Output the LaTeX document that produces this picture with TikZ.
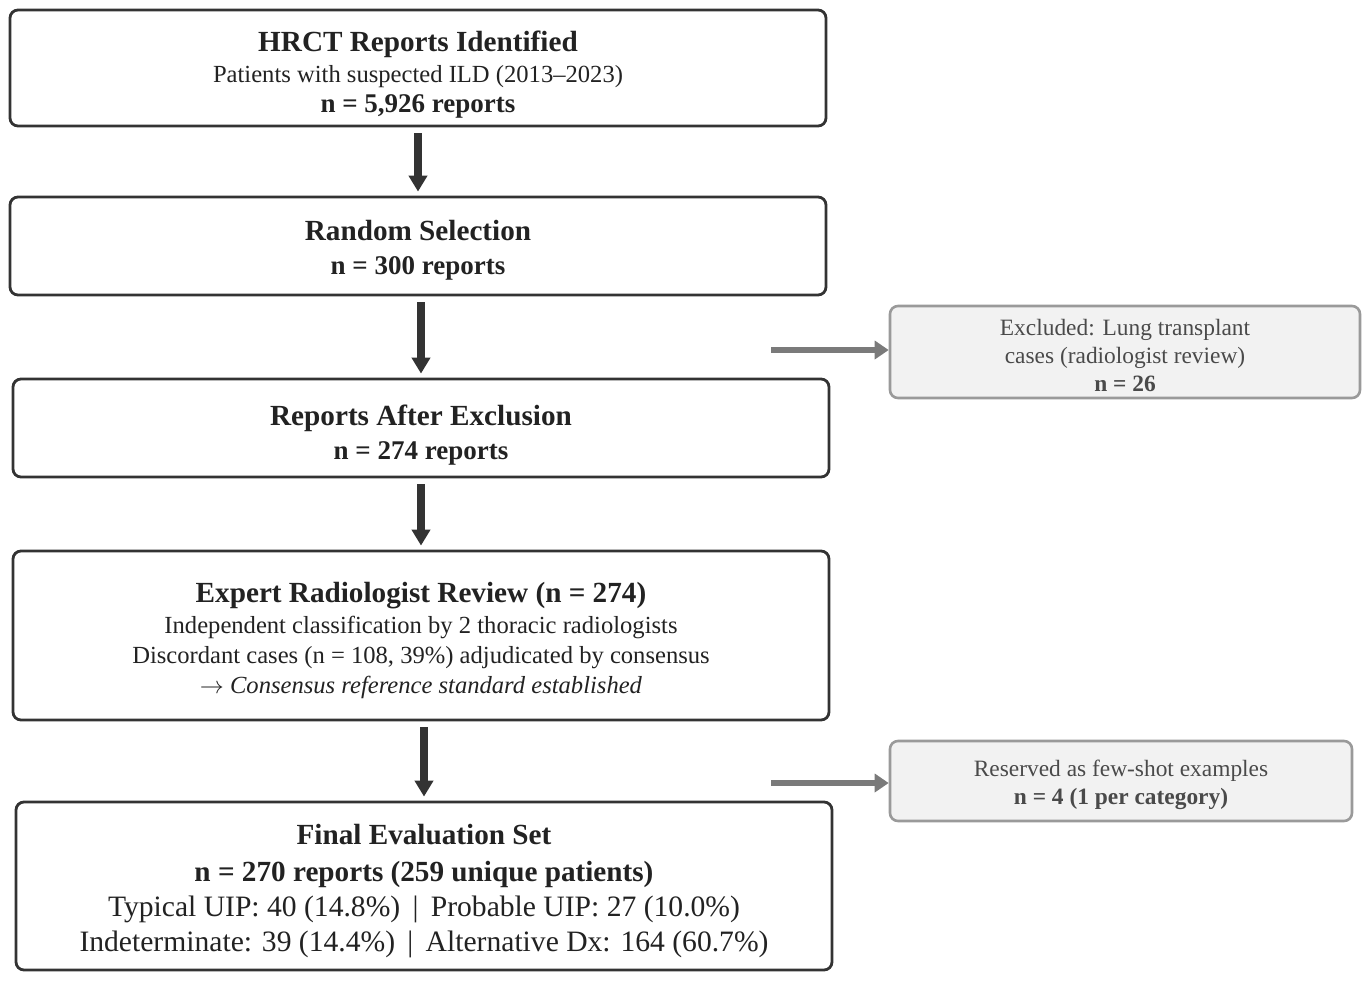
\documentclass[tikz,border=0pt]{standalone}
\usepackage{fontspec}
\setmainfont{Liberation Serif}
\usetikzlibrary{arrows.meta}
\definecolor{boxline}{HTML}{333333}
\definecolor{boxtext}{HTML}{222222}
\definecolor{sidefill}{HTML}{F2F2F2}
\definecolor{sideline}{HTML}{9A9A9A}
\definecolor{sidetext}{HTML}{4A4A4A}
\definecolor{sidearrow}{HTML}{7A7A7A}

\newcommand{\hd}{\fontsize{14.6}{15}\selectfont\bfseries}
\newcommand{\nn}{\fontsize{13.5}{15}\selectfont\bfseries}
\newcommand{\tx}{\fontsize{12.3}{15}\selectfont\mdseries}
\newcommand{\stat}{\fontsize{14.8}{17.5}\selectfont\mdseries}
\newcommand{\sd}{\fontsize{11.7}{14}\selectfont\mdseries}
\newcommand{\sdn}{\fontsize{11.7}{14}\selectfont\bfseries}
% strut that pushes a text block down inside its box
\newcommand{\topgap}[1]{\rule{0pt}{#1}}

\begin{document}
\begin{tikzpicture}[x=0.5pt,y=-0.5pt,
		mainbox/.style={draw=boxline, line width=1.4pt, rounded corners=4pt, fill=white,
			text=boxtext, align=center, minimum width=408pt, inner sep=0pt,
			font=\fontsize{12.3}{15}\selectfont},
		sidebox/.style={draw=sideline, line width=1.3pt, rounded corners=4pt, fill=sidefill,
			text=sidetext, align=center, inner sep=0pt, font=\fontsize{11.7}{14}\selectfont},
		flow/.style={draw=boxline, line width=3.6pt, -{Triangle[length=8pt,width=9pt]}},
		sideflow/.style={draw=sidearrow, line width=2.8pt, -{Triangle[length=7pt,width=9pt]}}]
	\useasboundingbox (0,0) rectangle (1371,981);

	\node[mainbox, minimum height=58pt] (hrct) at (418,68)
		{\hd\topgap{17pt}HRCT Reports Identified\\[0.5pt] \tx Patients with suspected ILD (2013--2023)\\ \nn n = 5,926 reports};
	\node[mainbox, minimum height=49pt] (random) at (418,246)
		{\hd\topgap{14.5pt}Random Selection\\[2pt] \nn n = 300 reports};
	\node[mainbox, minimum height=49pt] (after) at (421,428)
		{\hd\topgap{17.5pt}Reports After Exclusion\\[2pt] \nn n = 274 reports};
	\node[mainbox, minimum height=84.5pt] (expert) at (421,635.5)
		{\hd\topgap{15pt}Expert Radiologist Review (n = 274)\\[0.5pt] \tx Independent classification by 2 thoracic radiologists\\
		\tx Discordant cases (n = 108, 39\%) adjudicated by consensus\\ \tx $\rightarrow$ \textit{Consensus reference standard established}};
	\node[mainbox, minimum height=84pt, font=\fontsize{14.8}{17.5}\selectfont] (final) at (424,886)
		{\hd\topgap{15pt}Final Evaluation Set\\[1pt] \hd n = 270 reports (259 unique patients)\\
		\stat Typical UIP: 40 (14.8\%) \,|\, Probable UIP: 27 (10.0\%)\\ \stat Indeterminate: 39 (14.4\%) \,|\, Alternative Dx: 164 (60.7\%)};

	\node[sidebox, minimum width=235pt, minimum height=46pt] (excluded) at (1125,352)
		{\sd\topgap{11.5pt}Excluded: Lung transplant\\ \sd cases (radiologist review)\\ \sdn n = 26};
	\node[sidebox, minimum width=231pt, minimum height=40pt] (fewshot) at (1121,781)
		{\sd\topgap{12pt}Reserved as few-shot examples\\ \sdn n = 4 (1 per category)};

	\coordinate (cut1) at (771,350);
	\coordinate (cut2) at (771,783);

	\foreach \from/\to in {hrct/random, random/after, after/expert, expert/final}
		\draw[flow, shorten <=3pt, shorten >=2pt] (\from.south -| \to.north) -- (\to.north);

	\draw[sideflow] (cut1) -- (cut1 -| excluded.west);
	\draw[sideflow] (cut2) -- (cut2 -| fewshot.west);
\end{tikzpicture}
\end{document}
